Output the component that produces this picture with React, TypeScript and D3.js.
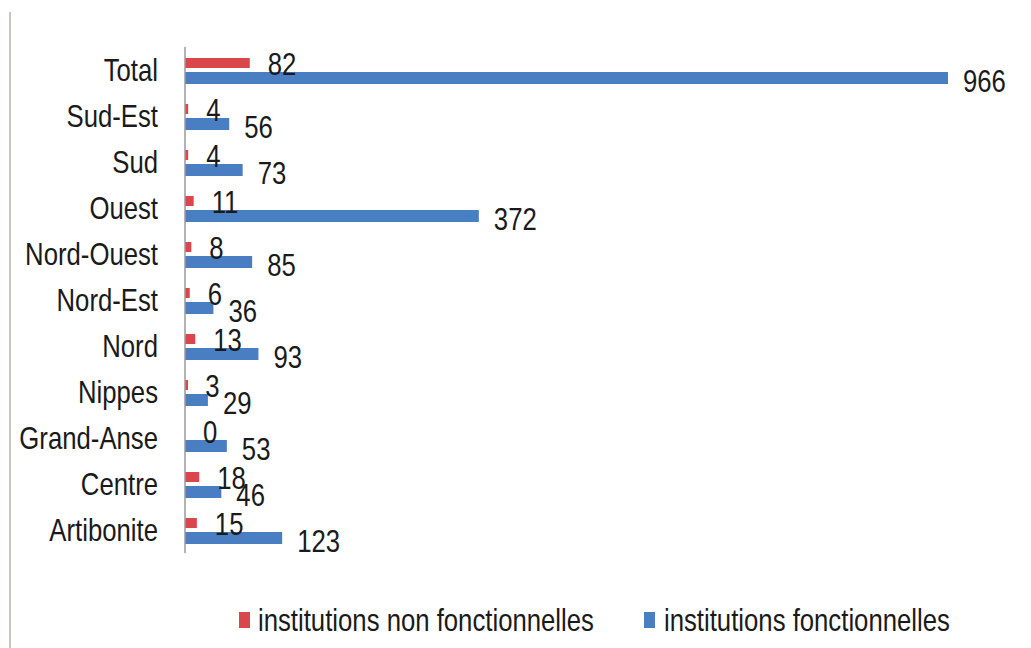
import React from "react";
import * as d3 from "d3";

const categories = ["Total", "Sud-Est", "Sud", "Ouest", "Nord-Ouest", "Nord-Est", "Nord", "Nippes", "Grand-Anse", "Centre", "Artibonite"];
const nonFonctionnelles = [82, 4, 4, 11, 8, 6, 13, 3, 0, 18, 15];
const fonctionnelles = [966, 56, 73, 372, 85, 36, 93, 29, 53, 46, 123];
const seriesNames = ["institutions non fonctionnelles", "institutions fonctionnelles"];

const RED = "#D9464B";
const BLUE = "#4A7EC3";
const FONT = "'Liberation Sans', Arial, sans-serif";
const SX = 0.83;

function Txt({ x, y, anchor = "start", children }: { x: number; y: number; anchor?: string; children: React.ReactNode }) {
  return (
    <text transform={`translate(${x},${y}) scale(${SX},1)`} textAnchor={anchor} dominantBaseline="central" fontSize={31} fill="#1a1a1a">
      {children}
    </text>
  );
}

export default function App() {
  const W = 1031, H = 648;
  const x = d3.scaleLinear().domain([0, 966]).range([185, 948]);
  const y = d3.scaleBand().domain(categories).range([47, 553]).padding(0);
  const half = y.bandwidth() / 2;

  return (
    <svg width={W} height={H} style={{ position: "absolute", left: 0, top: 0, background: "#fff" }} fontFamily={FONT}>
      <rect x={0} y={0} width={W} height={H} fill="#fff" />
      <line x1={10} x2={10} y1={12} y2={H} stroke="#cbc3bf" strokeWidth={2} />
      {categories.map((c, i) => {
        const cy = (y(c) as number) + half;
        const vr = nonFonctionnelles[i];
        const vb = fonctionnelles[i];
        return (
          <g key={c}>
            <Txt x={158} y={cy} anchor="end">{c}</Txt>
            <rect x={x(0)} y={cy - 12} width={Math.max(x(vr) - x(0), vr === 0 ? 0 : 3)} height={10} fill={RED} />
            <rect x={x(0)} y={cy + 2} width={x(vb) - x(0)} height={12} fill={BLUE} />
            <Txt x={x(vr) + 18} y={cy - 6}>{vr}</Txt>
            <Txt x={x(vb) + 15} y={cy + 11}>{vb}</Txt>
          </g>
        );
      })}
      <line x1={185} x2={185} y1={47} y2={553} stroke="#9a9a9a" strokeWidth={1.5} />
      <g>
        <rect x={239} y={612} width={11} height={16} fill={RED} />
        <Txt x={258} y={620}>{seriesNames[0]}</Txt>
        <rect x={644} y={612} width={11} height={16} fill={BLUE} />
        <Txt x={664} y={620}>{seriesNames[1]}</Txt>
      </g>
    </svg>
  );
}
